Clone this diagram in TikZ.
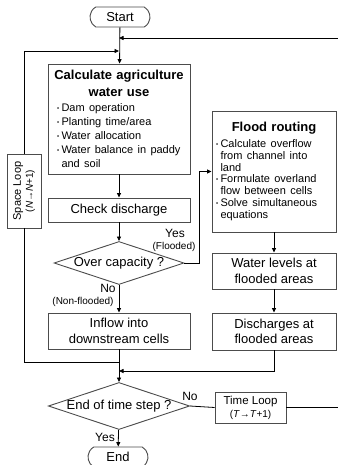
\documentclass[tikz,border=0pt]{standalone}
\usepackage{fontspec}
\setmainfont{Liberation Sans}
\usetikzlibrary{shapes.geometric,shapes.misc,arrows.meta}
\newcommand{\bul}{\makebox[4.5pt][l]{\raisebox{1pt}{\fontsize{6}{6}\selectfont •}}}
\newcommand{\ind}[1]{\makebox[#1]{}}
\begin{document}
\begin{tikzpicture}[x=1pt,y=-1pt,
  box/.style={draw=black!70, line width=0.9pt, fill=white, inner sep=0pt, align=center, font=\fontsize{13}{15.5}\selectfont},
  decision/.style={diamond, draw=black!70, line width=0.9pt, fill=white, inner sep=0pt, aspect=3, minimum width=130, minimum height=43, font=\fontsize{13}{15}\selectfont},
  term/.style={rounded rectangle, rounded rectangle arc length=120, draw=black!70, line width=0.9pt, fill=white, inner sep=0pt, minimum width=60, minimum height=20, font=\fontsize{13}{15}\selectfont},
  conn/.style={line width=0.8pt, draw=black},
  arr/.style={conn, -{Triangle[length=4.5pt,width=4pt]}},
  lab/.style={inner sep=0pt, font=\fontsize{12}{12}\selectfont},
  slab/.style={inner sep=0pt, font=\fontsize{10}{10}\selectfont}]
\useasboundingbox (0,0) rectangle (337,465);
% nodes
\node[term] (start) at (120,17) {Start};
\node[box, minimum width=142, minimum height=110, text width=130, align=left] (calc) at (119,119) {%
  {\centering\fontsize{13}{17}\selectfont\bfseries Calculate agriculture\\water use\par}\vspace{1pt}%
  {\fontsize{11}{14}\selectfont\ind{3pt}\bul Dam operation\\
  \ind{3pt}\bul Planting time/area\\
  \ind{3pt}\bul Water allocation\\
  \ind{3pt}\bul Water balance in paddy\\
  \ind{7.5pt}and soil\par}};
\node[box, minimum width=142, minimum height=24] (check) at (119,210) {Check discharge};
\node[decision] (cap) at (119,263) {Over capacity ?};
\node[box, minimum width=142, minimum height=36] (inflow) at (119,331) {Inflow into\\downstream cells};
\node[box, minimum width=124, minimum height=121, text width=116, align=left] (flood) at (274,171.5) {%
  {\centering\fontsize{13}{15}\selectfont\bfseries Flood routing\par}\vspace{4pt}%
  {\fontsize{11}{11.8}\selectfont\bul Calculate overflow\\
  \ind{4.5pt}from channel into\\
  \ind{4.5pt}land\\
  \bul Formulate overland\\
  \ind{4.5pt}flow between cells\\
  \bul Solve simultaneous\\
  \ind{4.5pt}equations\par}\vspace{8pt}};
\node[box, minimum width=124, minimum height=36] (levels) at (274,271) {Water levels at\\flooded areas};
\node[box, minimum width=124, minimum height=37] (disch) at (274,331.5) {Discharges at\\flooded areas};
\node[box, rotate=90, minimum width=74, minimum height=34, font=\fontsize{11}{12}\selectfont] (space) at (24,191) {Space Loop\\{\fontsize{10}{10}\selectfont(\textit{N}→\textit{N}+1)}};
\node[decision] (endstep) at (119,406) {End of time step ?};
\node[box, minimum width=71, minimum height=31, font=\fontsize{11.5}{13}\selectfont] (tloop) at (250.5,407.5) {Time Loop\\{\fontsize{10}{10}\selectfont(\textit{T}→\textit{T}+1)}};
\node[term] (end) at (118,457) {End};
% coordinates
\coordinate (j1) at (119,38);
\coordinate (j2) at (119,51);
\coordinate (sb) at (119,362);
\coordinate (mj) at (119,371);
\coordinate (rt) at (345,407.5);
% connectors
\draw[arr] (start) -- (calc);
\draw[arr] (calc) -- (check);
\draw[arr] (check) -- (cap);
\draw[arr] (cap) -- (inflow);
\draw[arr] (cap.east) -- ++(15,0) |- (flood.west);
\draw[arr] (flood) -- (levels);
\draw[arr] (levels) -- (disch);
\draw[arr] (disch.south) |- (mj);
\draw[arr] (inflow) -- (endstep);
\draw[conn] (sb) -| (space.west);
\draw[arr] (space.east) |- (j2);
\draw[arr] (endstep) -- (end);
\draw[conn] (endstep.east) -- (tloop.west);
\draw[arr] (tloop.east) -- (rt) |- (j1);
% labels
\node[lab] (ly1) at (175,233) {Yes};
\node[slab] (ly2) at (174,247) {(Flooded)};
\node[lab] (ln1) at (108,288) {No};
\node[slab] (ln2) at (83,302) {(Non-flooded)};
\node[lab] (ly3) at (105,437) {Yes};
\node[lab] (ln3) at (190,396) {No};
\end{tikzpicture}
\end{document}
